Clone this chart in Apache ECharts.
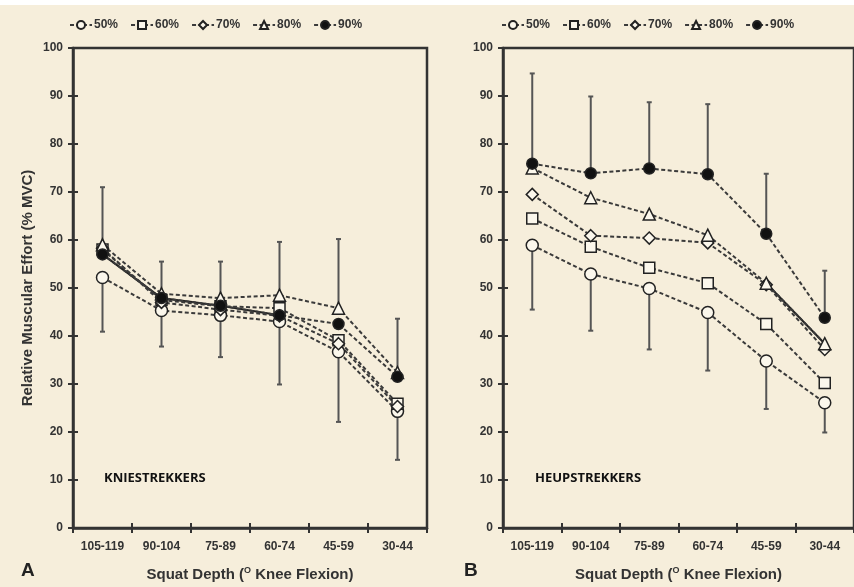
<!DOCTYPE html>
<html>
<head>
<meta charset="utf-8">
<script src="https://cdn.jsdelivr.net/npm/echarts@6/dist/echarts.min.js"></script>
<style>
html,body{margin:0;padding:0;background:#f6eedb;}
#main{width:854px;height:587px;}
</style>
</head>
<body>
<div id="main"></div>
<script>
var categories = ['105-119','90-104','75-89','60-74','45-59','30-44'];
var yTicks = [0,10,20,30,40,50,60,70,80,90,100];
var seriesNames = ['50%','60%','70%','80%','90%'];

var kneeP50 = [52.2, 45.3, 44.3, 43.0, 36.7, 24.3];
var kneeP60 = [58.0, 47.5, 46.2, 45.8, 39.1, 25.9];
var kneeP70 = [58.3, 47.0, 45.5, 44.2, 38.4, 25.3];
var kneeP80 = [59.0, 48.8, 47.9, 48.5, 45.8, 32.4];
var kneeP90 = [57.0, 47.9, 46.3, 44.3, 42.5, 31.5];
var kneeErrLow  = [40.9, 37.8, 35.6, 29.9, 22.1, 14.2];
var kneeErrHigh = [71.0, 55.5, 55.5, 59.6, 60.2, 43.6];

var hipP50 = [58.9, 52.9, 49.9, 44.9, 34.8, 26.1];
var hipP60 = [64.5, 58.6, 54.2, 51.0, 42.5, 30.2];
var hipP70 = [69.5, 60.9, 60.4, 59.4, 50.7, 37.2];
var hipP80 = [75.0, 68.8, 65.4, 61.0, 51.0, 38.4];
var hipP90 = [75.9, 73.9, 74.9, 73.7, 61.3, 43.8];
var hipErrLow  = [45.5, 41.1, 37.2, 32.8, 24.8, 19.9];
var hipErrHigh = [94.7, 89.9, 88.7, 88.3, 73.8, 53.6];

var FONT = 'Arial, "Liberation Sans", sans-serif';
var INK = '#333333';
var FILL = '#fbf7ec';

var chart = echarts.init(document.getElementById('main'), null, {renderer:'canvas'});

var symbolDefs = {
  '50%': {symbol:'circle', size:12, color:FILL},
  '60%': {symbol:'rect', size:11, color:FILL},
  '70%': {symbol:'diamond', size:12, color:FILL},
  '80%': {symbol:'triangle', size:12, color:FILL},
  '90%': {symbol:'circle', size:11, color:'#111'}
};

function lineSeries(name, data, idx) {
  var d = symbolDefs[name];
  return {
    type:'line', name:name, data:data, xAxisIndex:idx*2, yAxisIndex:idx*2,
    symbol:d.symbol, symbolSize:d.size, showSymbol:true,
    lineStyle:{color:'#3a3a3a', width:2, type:[4,2.5]},
    itemStyle:{color:d.color, borderColor:'#222', borderWidth:1.5},
    z:5, animation:false
  };
}
function solidSeg(data, idx) {
  return {
    type:'line', name:'_seg'+idx, data:data, xAxisIndex:idx*2, yAxisIndex:idx*2,
    symbol:'none', lineStyle:{color:'#222', width:2, type:'solid'}, z:4, animation:false,
    connectNulls:false
  };
}
// error bars: drawn above the highest mean and below the lowest mean
function errSeries(low, high, groups, idx) {
  var data = low.map(function(l,i){
    var vals = groups.map(function(g){ return g[i]; });
    return [i, l, high[i], Math.max.apply(null, vals), Math.min.apply(null, vals)];
  });
  return {
    type:'custom', name:'_err'+idx, xAxisIndex:idx*2, yAxisIndex:idx*2, z:2, animation:false,
    encode:{x:0, y:[1,2]},
    data:data,
    renderItem:function(params, api){
      var x = api.value(0);
      var lo = api.coord([x, api.value(1)]);
      var hi = api.coord([x, api.value(2)]);
      var top = api.coord([x, api.value(3)]);
      var bot = api.coord([x, api.value(4)]);
      var st = {stroke:'#555', lineWidth:2};
      return {type:'group', children:[
        {type:'line', shape:{x1:hi[0], y1:hi[1], x2:top[0], y2:top[1]}, style:st},
        {type:'line', shape:{x1:bot[0], y1:bot[1], x2:lo[0], y2:lo[1]}, style:st},
        {type:'line', shape:{x1:lo[0]-2.5, y1:lo[1], x2:lo[0]+2.5, y2:lo[1]}, style:st},
        {type:'line', shape:{x1:hi[0]-2.5, y1:hi[1], x2:hi[0]+2.5, y2:hi[1]}, style:st}
      ]};
    }
  };
}

var xNameText = '{a|Squat Depth (}{s|O}{a| Knee Flexion)}';
var xNameStyle = {rich:{
  a:{fontFamily:FONT, fontWeight:'bold', fontSize:15, color:INK},
  s:{fontFamily:FONT, fontWeight:'bold', fontSize:9, color:INK, verticalAlign:'top', padding:[0,0,8,0]}
}};

function xAxes(gi) {
  var main = {
    type:'category', data:categories, gridIndex:gi, boundaryGap:true, position:'bottom',
    axisLine:{lineStyle:{color:INK, width:2.5}},
    axisTick:{show:true, length:5, lineStyle:{color:INK, width:2}},
    axisLabel:{fontFamily:FONT, fontWeight:'bold', fontSize:12, color:INK, margin:13},
    name:xNameText, nameLocation:'middle', nameGap:38, nameTextStyle:xNameStyle
  };
  var inner = {
    type:'category', data:categories, gridIndex:gi, boundaryGap:true, position:'bottom',
    axisLine:{show:false},
    axisTick:{show:true, inside:true, length:5, lineStyle:{color:INK, width:2}},
    axisLabel:{show:false}
  };
  return [main, inner];
}
function yAxes(gi, withName) {
  var main = {
    type:'value', gridIndex:gi, min:0, max:100, interval:10, position:'left',
    axisLine:{show:true, lineStyle:{color:INK, width:2.5}},
    axisTick:{show:true, length:5, lineStyle:{color:INK, width:2}},
    splitLine:{show:false},
    axisLabel:{fontFamily:FONT, fontWeight:'bold', fontSize:12, color:INK, margin:10,
      customValues: yTicks},
    name: withName ? 'Relative Muscular Effort (% MVC)' : '',
    nameLocation:'middle', nameGap:38, nameRotate:90,
    nameTextStyle:{fontFamily:FONT, fontWeight:'bold', fontSize:15, color:INK}
  };
  var inner = {
    type:'value', gridIndex:gi, min:0, max:100, interval:10, position:'left',
    axisLine:{show:false},
    axisTick:{show:true, inside:true, length:5, lineStyle:{color:INK, width:2}},
    splitLine:{show:false}, axisLabel:{show:false}
  };
  return [main, inner];
}

var legendCommon = {
  data:seriesNames, top:14, itemWidth:22, itemHeight:10, itemGap:12,
  textStyle:{fontFamily:FONT, fontWeight:'bold', fontSize:12, color:INK, padding:[0,0,0,-3]},
  selectedMode:false
};

var option = {
  backgroundColor:'#f6eedb',
  animation:false,
  grid:[
    {left:73, top:48, width:354, height:482, show:true, borderColor:INK, borderWidth:2.5, backgroundColor:'transparent'},
    {left:503, top:48, width:354, height:482, show:true, borderColor:INK, borderWidth:2.5, backgroundColor:'transparent'}
  ],
  legend:[
    Object.assign({left:64}, legendCommon),
    Object.assign({left:496}, legendCommon)
  ],
  xAxis: xAxes(0).concat(xAxes(1)),
  yAxis: yAxes(0, true).concat(yAxes(1, false)),
  graphic:[
    {type:'rect', shape:{x:0, y:0, width:854, height:5}, style:{fill:'#ffffff'}, z:100},
    {type:'text', left:104, top:472, style:{text:'KNIESTREKKERS', font:'bold 13px "Open Sans", Lato, sans-serif', fill:'#111'}, z:100},
    {type:'text', left:535, top:472, style:{text:'HEUPSTREKKERS', font:'bold 13px "Open Sans", Lato, sans-serif', fill:'#111'}, z:100},
    {type:'text', left:21, top:561, style:{text:'A', font:'bold 19px Arial, "Liberation Sans", sans-serif', fill:'#222'}, z:100},
    {type:'text', left:464, top:561, style:{text:'B', font:'bold 19px Arial, "Liberation Sans", sans-serif', fill:'#222'}, z:100}
  ],
  series:[
    errSeries(kneeErrLow, kneeErrHigh, [kneeP50,kneeP60,kneeP70,kneeP80,kneeP90], 0),
    errSeries(hipErrLow, hipErrHigh, [hipP50,hipP60,hipP70,hipP80,hipP90], 1),
    solidSeg([kneeP90[0], kneeP90[1], kneeP90[2], kneeP90[3], null, null], 0),
    solidSeg([null, null, null, null, hipP80[4], hipP80[5]], 1),
    lineSeries('50%', kneeP50, 0),
    lineSeries('60%', kneeP60, 0),
    lineSeries('70%', kneeP70, 0),
    lineSeries('80%', kneeP80, 0),
    lineSeries('90%', kneeP90, 0),
    lineSeries('50%', hipP50, 1),
    lineSeries('60%', hipP60, 1),
    lineSeries('70%', hipP70, 1),
    lineSeries('80%', hipP80, 1),
    lineSeries('90%', hipP90, 1)
  ]
};
chart.setOption(option);
</script>
</body>
</html>
